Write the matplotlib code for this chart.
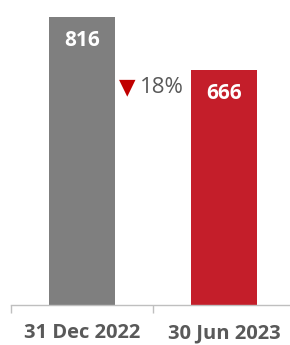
import matplotlib
matplotlib.use("Agg")
import matplotlib.pyplot as plt

categories = ["31 Dec 2022", "30 Jun 2023"]
values = [816, 666]
colors = ["#7F7F7F", "#C41E2A"]
change_label = "18%"

plt.rcParams['font.family'] = ['Open Sans', 'DejaVu Sans']

fig = plt.figure(figsize=(2.9, 3.45), dpi=100)
ax = fig.add_axes([11/290, 40/345, 284/290, 288/345])

x = list(range(len(categories)))
bars = ax.bar(x, values, width=0.465, color=colors, zorder=2)
ax.set_xlim(-0.5, 1.5)
ax.set_ylim(0, max(values))

for xi, v in zip(x, values):
    ax.text(xi, v - 0.083 * max(values), str(v), ha="center", va="center",
            color="white", fontsize=15, fontweight="bold", clip_on=False)

# change annotation between bars
ax.text(0.32, 0.755 * max(values), "▼", ha="center", va="center", color="#C00000",
        fontsize=15.5, family="DejaVu Sans")
ax.text(0.41, 0.755 * max(values), change_label, ha="left", va="center",
        color="#595959", fontsize=16)

for s in ["top", "right", "left"]:
    ax.spines[s].set_visible(False)
ax.spines["bottom"].set_color("#BFBFBF")
ax.spines["bottom"].set_linewidth(1.0)
ax.set_yticks([])

ax.set_xticks([-0.5, 0.5, 1.5])
ax.set_xticklabels([])
ax.tick_params(axis="x", which="major", length=6, color="#BFBFBF", width=1.0)
ax.set_xticks(x, minor=True)
ax.set_xticklabels(categories, minor=True, fontsize=14.5, fontweight="bold", color="#595959")
ax.tick_params(axis="x", which="minor", length=0, pad=13)

fig.savefig("out.png", dpi=100)
